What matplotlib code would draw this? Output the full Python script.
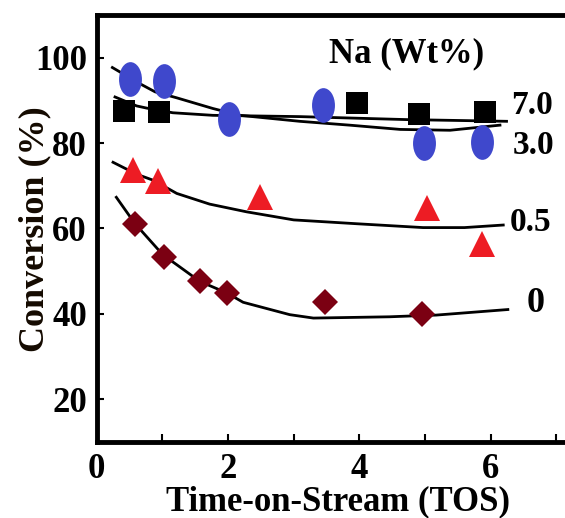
import numpy as np
import matplotlib
matplotlib.use("Agg")
import matplotlib.pyplot as plt
from matplotlib.path import Path
import matplotlib.transforms as mtrans

# measured points (TOS, conversion %)
x_na7 = [0.41, 0.95, 3.96, 4.91, 5.91]
y_na7 = [87.5, 87.3, 89.4, 86.9, 87.2]
x_na3 = [0.51, 1.02, 2.01, 3.44, 4.98, 5.87]
y_na3 = [94.9, 94.5, 85.7, 88.9, 79.9, 80.3]
x_na05 = [0.56, 0.93, 2.48, 5.03, 5.87]
y_na05 = [73.7, 71.1, 67.4, 64.7, 56.4]
x_na0 = [0.59, 1.03, 1.58, 1.98, 3.48, 4.96]
y_na0 = [61.0, 53.4, 47.6, 44.9, 42.7, 40.0]

# trend curves
cx_na7 = [0.28, 0.61, 0.76, 1.16, 1.77, 3.09, 4.72, 6.24]
cy_na7 = [90.8, 88.7, 88.2, 87.1, 86.5, 86.2, 85.5, 85.1]
cx_na3 = [0.24, 0.66, 0.89, 1.22, 1.77, 2.18, 3.09, 3.85, 4.62, 5.38, 6.14]
cy_na3 = [97.7, 93.9, 92.0, 90.6, 88.1, 86.5, 85.1, 84.2, 83.2, 83.0, 84.2]
cx_na05 = [0.25, 0.61, 0.86, 1.22, 1.72, 2.28, 3.0, 3.96, 4.97, 5.6, 6.19]
cy_na05 = [75.5, 72.7, 71.3, 68.2, 65.7, 63.9, 62.0, 61.1, 60.2, 60.2, 60.8]
cx_na0 = [0.30, 0.58, 1.01, 1.22, 1.57, 1.98, 2.23, 2.94, 3.30, 4.46, 4.97, 5.17, 6.26]
cy_na0 = [67.3, 61.2, 53.8, 51.5, 47.6, 44.9, 42.7, 39.8, 39.0, 39.3, 39.6, 39.7, 41.0]

series_labels = ["7.0", "3.0", "0.5", "0"]

plt.rcParams['font.family'] = ['Liberation Serif', 'DejaVu Serif']
plt.rcParams['font.weight'] = 'bold'

fig = plt.figure(figsize=(5.65, 5.18), dpi=100)
ax = fig.add_axes([0.171, 0.147, 0.829, 0.824])

# curves under the markers
for cx, cy in [(cx_na7, cy_na7), (cx_na3, cy_na3), (cx_na05, cy_na05), (cx_na0, cy_na0)]:
    ax.plot(cx, cy, color='black', lw=2, zorder=2, solid_joinstyle='round')

ellipse = Path.unit_circle().transformed(mtrans.Affine2D().scale(0.66, 1.0))

ax.plot(x_na7, y_na7, 's', color='black', ms=16, mew=0, zorder=3)
ax.plot(x_na3, y_na3, linestyle='none', marker=ellipse, color='#3f48cc', ms=25, mew=0, zorder=3)
ax.plot(x_na05, y_na05, '^', color='#ed1c24', ms=19, mew=0, zorder=3)
ax.plot(x_na0, y_na0, 'D', color='#7b0012', ms=13.5, mew=0, zorder=3)

ax.set_xlim(0, 7.13)
ax.set_ylim(10, 110)
ax.set_xticks(range(0, 8))
ax.set_xticklabels(['0', '', '2', '', '4', '', '6', ''])
ax.set_yticks([20, 40, 60, 80, 100])
ax.tick_params(axis='both', direction='in', labelsize=25, width=1.5)
ax.tick_params(axis='x', length=6, pad=8)
ax.tick_params(axis='y', length=5, pad=7)

for s in ['left', 'bottom', 'top']:
    ax.spines[s].set_linewidth(3.5)
ax.spines['right'].set_visible(False)

ax.text(4.72, 100.9, 'Na (Wt%)', fontsize=25, ha='center', va='center')
ax.text(6.31, 88.8, series_labels[0], fontsize=24, ha='left', va='center')
ax.text(6.34, 79.5, series_labels[1], fontsize=24, ha='left', va='center')
ax.text(6.29, 61.5, series_labels[2], fontsize=24, ha='left', va='center')
ax.text(6.54, 42.5, series_labels[3], fontsize=26, ha='left', va='center')

fig.text(0.598, 0.014, 'Time-on-Stream (TOS)', fontsize=25, ha='center', va='baseline')
fig.text(35 / 565, 1 - 229 / 518, 'Conversion (%)', fontsize=26, rotation=90,
         ha='center', va='center', color='#140a00')

fig.savefig('out.png', dpi=100)
